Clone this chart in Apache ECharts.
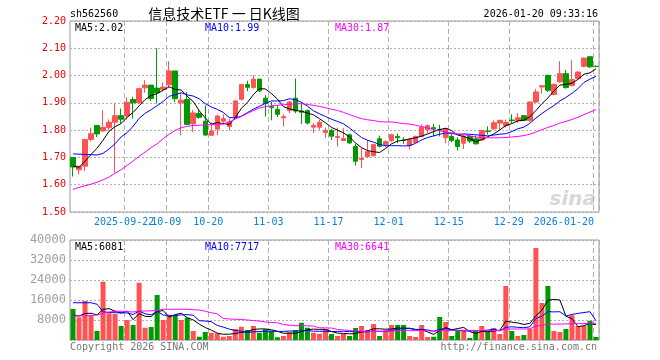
<!DOCTYPE html>
<html><head><meta charset="utf-8">
<script src="https://cdn.jsdelivr.net/npm/echarts@6/dist/echarts.min.js"></script>
<style>html,body{margin:0;padding:0;background:#fff}#c{width:660px;height:360px}</style>
</head><body><div id="c"></div>
<script>
const dates = ['2025-09-09','2025-09-10','2025-09-11','2025-09-12','2025-09-15','2025-09-16','2025-09-17','2025-09-18','2025-09-19','2025-09-22','2025-09-23','2025-09-24','2025-09-25','2025-09-26','2025-09-29','2025-09-30',
'2025-10-09','2025-10-10','2025-10-13','2025-10-14','2025-10-15','2025-10-16','2025-10-17','2025-10-20','2025-10-21','2025-10-22','2025-10-23','2025-10-24','2025-10-27','2025-10-28','2025-10-29','2025-10-30','2025-10-31',
'2025-11-03','2025-11-04','2025-11-05','2025-11-06','2025-11-07','2025-11-10','2025-11-11','2025-11-12','2025-11-13','2025-11-14','2025-11-17','2025-11-18','2025-11-19','2025-11-20','2025-11-21','2025-11-24','2025-11-25','2025-11-26','2025-11-27','2025-11-28',
'2025-12-01','2025-12-02','2025-12-03','2025-12-04','2025-12-05','2025-12-08','2025-12-09','2025-12-10','2025-12-11','2025-12-12','2025-12-15','2025-12-16','2025-12-17','2025-12-18','2025-12-19','2025-12-22','2025-12-23','2025-12-24','2025-12-25','2025-12-26','2025-12-29','2025-12-30','2025-12-31',
'2026-01-05','2026-01-06','2026-01-07','2026-01-08','2026-01-09','2026-01-12','2026-01-13','2026-01-14','2026-01-15','2026-01-16','2026-01-19','2026-01-20'];
const labelDates = ['2025-09-22','2025-10-09','2025-10-20','2025-11-03','2025-11-17','2025-12-01','2025-12-15','2025-12-29','2026-01-20'];

const opens = [1.700,1.655,1.668,1.766,1.817,1.797,1.809,1.829,1.853,1.852,1.912,1.900,1.955,1.965,1.954,1.949,1.966,2.017,1.900,1.912,1.823,1.861,1.833,1.781,1.804,1.833,1.813,1.846,1.913,1.967,
1.956,1.987,1.917,1.886,1.876,1.845,1.872,1.917,1.870,1.872,1.811,1.811,1.791,1.799,1.773,1.762,1.783,1.740,1.692,1.703,1.706,1.768,1.746,1.762,1.777,1.764,1.743,1.755,1.777,1.801,
1.809,1.803,1.772,1.777,1.764,1.752,1.777,1.768,1.764,1.797,1.805,1.826,1.817,1.837,1.836,1.853,1.836,1.903,1.958,2.001,1.931,1.977,2.007,1.964,1.989,2.034,2.069,2.034];
const closes = [1.665,1.668,1.766,1.787,1.786,1.810,1.829,1.853,1.840,1.902,1.900,1.952,1.965,1.916,1.937,1.958,2.017,1.915,1.910,1.821,1.863,1.847,1.782,1.797,1.852,1.842,1.830,1.907,1.967,1.957,
1.987,1.944,1.898,1.882,1.858,1.850,1.903,1.870,1.866,1.826,1.817,1.829,1.799,1.778,1.777,1.769,1.753,1.686,1.696,1.721,1.747,1.741,1.758,1.783,1.772,1.762,1.766,1.777,1.811,1.816,
1.805,1.800,1.805,1.762,1.740,1.777,1.760,1.750,1.799,1.795,1.827,1.836,1.828,1.835,1.845,1.836,1.903,1.940,1.963,1.946,1.968,2.007,1.956,1.985,2.013,2.064,2.032,2.033];
const lows = [1.630,1.637,1.650,1.759,1.775,1.793,1.799,1.644,1.824,1.839,1.842,1.898,1.937,1.907,1.898,1.943,1.956,1.903,1.781,1.821,1.793,1.842,1.780,1.780,1.781,1.820,1.799,1.842,1.909,1.943,
1.952,1.940,1.850,1.836,1.848,1.813,1.862,1.862,1.823,1.821,1.790,1.801,1.772,1.764,1.740,1.760,1.750,1.670,1.661,1.698,1.703,1.737,1.737,1.756,1.752,1.750,1.729,1.752,1.776,1.789,
1.777,1.777,1.752,1.756,1.725,1.731,1.753,1.747,1.762,1.784,1.801,1.799,1.809,1.826,1.826,1.834,1.830,1.900,1.934,1.940,1.927,1.973,1.952,1.960,1.985,2.030,2.028,2.030];
const highs = [1.700,1.668,1.766,1.809,1.817,1.873,1.839,1.898,1.879,1.920,1.922,1.954,1.983,1.966,2.100,1.975,2.053,2.017,1.939,1.939,1.873,1.873,1.890,1.828,1.856,1.858,1.842,1.910,1.969,1.981,
2.001,1.988,1.928,1.903,1.890,1.858,1.907,1.989,1.903,1.875,1.826,1.838,1.809,1.804,1.809,1.807,1.787,1.750,1.735,1.764,1.750,1.780,1.762,1.787,1.787,1.774,1.771,1.780,1.821,1.821,
1.823,1.820,1.808,1.787,1.774,1.782,1.782,1.780,1.801,1.814,1.836,1.838,1.838,1.858,1.863,1.855,1.905,1.951,1.963,2.003,1.970,2.053,2.020,2.056,2.015,2.066,2.071,2.036];

const ma5 = [1.668,1.664,1.686,1.711,1.734,1.763,1.796,1.813,1.824,1.847,1.865,1.889,1.912,1.927,1.934,1.946,1.959,1.949,1.947,1.924,1.905,1.871,1.845,1.822,1.828,1.824,1.821,1.846,1.880,1.901,
1.930,1.952,1.951,1.934,1.914,1.886,1.878,1.873,1.869,1.863,1.856,1.842,1.827,1.810,1.800,1.790,1.775,1.753,1.736,1.725,1.721,1.718,1.733,1.750,1.760,1.763,1.768,1.772,1.778,1.786,
1.795,1.802,1.807,1.798,1.782,1.777,1.769,1.758,1.765,1.776,1.786,1.801,1.817,1.824,1.834,1.836,1.849,1.872,1.897,1.918,1.944,1.965,1.968,1.972,1.986,2.005,2.010,2.025];
const ma10 = [1.713,1.712,1.711,1.710,1.709,1.715,1.731,1.750,1.775,1.791,1.814,1.843,1.862,1.875,1.890,1.905,1.924,1.930,1.937,1.929,1.925,1.915,1.897,1.885,1.876,1.865,1.846,1.845,1.851,1.864,
1.877,1.887,1.898,1.907,1.907,1.908,1.915,1.912,1.902,1.888,1.871,1.860,1.850,1.840,1.832,1.823,1.808,1.790,1.773,1.763,1.756,1.747,1.743,1.743,1.743,1.742,1.743,1.752,1.764,1.773,
1.779,1.785,1.790,1.788,1.784,1.786,1.785,1.783,1.781,1.779,1.782,1.785,1.787,1.795,1.805,1.811,1.825,1.844,1.861,1.876,1.890,1.907,1.920,1.935,1.952,1.975,1.987,1.997];
const ma30 = [1.583,1.590,1.596,1.602,1.609,1.618,1.628,1.642,1.655,1.671,1.687,1.704,1.720,1.736,1.750,1.769,1.785,1.799,1.809,1.814,1.817,1.818,1.819,1.820,1.820,1.823,1.830,1.841,1.850,1.861,
1.872,1.881,1.886,1.889,1.891,1.893,1.895,1.896,1.897,1.894,1.891,1.887,1.882,1.877,1.872,1.865,1.857,1.849,1.842,1.838,1.835,1.831,1.830,1.830,1.827,1.824,1.822,1.818,1.813,1.808,
1.802,1.797,1.794,1.790,1.786,1.784,1.779,1.775,1.773,1.772,1.772,1.772,1.773,1.775,1.777,1.780,1.785,1.793,1.802,1.810,1.817,1.826,1.832,1.839,1.847,1.857,1.866,1.875];

const volumes = [12400,9070,15600,9600,3600,23300,10700,10400,5600,8000,6000,22900,4900,5200,18000,8000,9600,10000,8000,8900,3600,1300,3200,2900,2700,1300,1600,4400,5300,4000,
5600,2900,4300,3600,1100,1600,3100,4000,6900,4900,2900,2500,4300,2400,1600,2400,1600,4800,5600,4000,6400,1600,4000,6000,6000,6000,1600,1200,6000,1200,
1300,9200,7200,1600,3600,3600,800,3600,5600,3200,4800,2400,21600,3600,1600,2000,4400,36800,14800,21600,3600,3200,4400,9900,5600,5600,7700,1200];
const vma5 = [10000,9600,10600,10700,10054,12234,12560,11520,10720,11600,8140,10580,9480,9400,11400,11800,9140,10160,10720,8900,8020,6360,5000,3980,2740,2280,2340,2580,3060,3320,
4180,4440,4420,4080,3500,2700,2740,2680,3340,4100,4360,4240,4300,3400,2740,2640,2460,2560,3200,3680,4480,4480,4320,4400,4800,4720,4720,4160,4160,3200,
2260,3780,4980,4100,4580,5040,3360,2640,3440,3360,3600,3920,7520,7120,6800,6240,6640,9680,11920,15920,16240,16000,9520,8540,5340,5740,6640,6081];
const vma10 = [14900,14900,14900,14900,14300,11300,11000,10900,10900,10827,10187,11570,10500,10060,11500,9970,9860,9820,10060,10150,9910,7750,7580,7350,5820,5150,4350,3790,3520,3030,
3230,3390,3500,3570,3410,3440,3590,3550,3710,3800,3530,3490,3490,3370,3420,3500,3350,3430,3300,3210,3560,3470,3440,3800,4240,4600,4600,4240,4280,4000,
3490,4250,4570,4130,3890,3650,3570,3810,3770,3970,4320,3640,5080,5280,5080,4920,5280,8600,9520,11360,11240,11320,9600,10230,10630,10990,11320,7717];
const vma30 = [9600,9600,9700,9800,10000,10700,11200,11500,11500,11400,11200,11600,11600,11700,11800,12300,12300,12300,12300,12300,12100,12000,11500,10900,10500,8600,8400,8300,8200,8002,
7776,7570,7193,6993,6910,6187,5933,5720,5763,5660,5557,4877,4857,4763,4217,4030,3763,3590,3510,3347,3440,3450,3477,3580,3690,3847,3847,3740,3763,3670,
3527,3737,3833,3767,3850,3917,3840,3827,3783,3727,3790,3787,4363,4403,4403,4390,4483,5550,5857,6443,6350,6403,6417,6547,6533,6520,6723,6641];

const priceMaLabels = ['MA5:2.02','MA10:1.99','MA30:1.87'];
const volMaLabels = ['MA5:6081','MA10:7717','MA30:6641'];
const maColors = ['#000000','#0000ff','#ff00ff'];

const UP = '#ff5353', DOWN = '#009a00';
const MONO = 'DejaVu Sans Mono';
const LBLBLUE = '#0a80d8';
const isLabel = (i, v) => labelDates.indexOf(v) >= 0;

const chart = echarts.init(document.getElementById('c'), null, {renderer: 'canvas'});
const candles = dates.map((d, i) => [opens[i], closes[i], lows[i], highs[i]]);
const volBars = volumes.map((v, i) => ({value: v, itemStyle: {color: closes[i] >= opens[i] ? UP : DOWN}}));

const splitX = {show: true, interval: isLabel, lineStyle: {color: '#b0b0b0', type: [5, 3], width: 1}};
const lineS = (name, data, color, xi, yi) => ({name, type: 'line', data, xAxisIndex: xi, yAxisIndex: yi, showSymbol: false, symbol: 'none', lineStyle: {color, width: 1}, itemStyle: {color}, silent: true, z: 5});

function txt(x, y, text, opts) {
  return {type: 'text', x, y, style: Object.assign({text, font: '10px ' + MONO, fill: '#000', textVerticalAlign: 'middle'}, opts || {})};
}
const lastLabel = labelDates[labelDates.length - 1];
const richBase = {color: LBLBLUE, fontFamily: MONO, fontSize: 10};

chart.setOption({
  animation: false,
  backgroundColor: '#fff',
  grid: [
    {left: 70, top: 21, width: 529, height: 191, show: true, borderColor: '#999', borderWidth: 1, backgroundColor: 'transparent'},
    {left: 70, top: 240, width: 529, height: 100, show: true, borderColor: '#999', borderWidth: 1, backgroundColor: 'transparent'}
  ],
  xAxis: [
    {type: 'category', gridIndex: 0, data: dates, boundaryGap: true,
     axisLine: {show: false}, axisTick: {show: false, interval: isLabel},
     axisLabel: {interval: 0, color: LBLBLUE, fontFamily: MONO, fontSize: 10, margin: 5,
       hideOverlap: false, alignMaxLabel: 'right',
       formatter: v => !isLabel(0, v) ? '' : (v === lastLabel ? '{b|' + v + '}' : '{a|' + (v === labelDates[0] ? v : v.slice(5)) + '}'),
       rich: {a: Object.assign({padding: [0, 6, 0, 0]}, richBase), b: Object.assign({padding: [0, 2, 0, 0]}, richBase)}},
     splitLine: splitX},
    {type: 'category', gridIndex: 1, data: dates, boundaryGap: true,
     axisLine: {show: false}, axisTick: {show: false, interval: isLabel}, axisLabel: {show: false, interval: isLabel},
     splitLine: splitX}
  ],
  yAxis: [
    {type: 'value', gridIndex: 0, min: 1.5, max: 2.2, interval: 0.1,
     axisLine: {show: false}, axisTick: {show: false},
     axisLabel: {color: '#ee0000', fontFamily: MONO, fontSize: 10, margin: 4, showMinLabel: true, showMaxLabel: true, formatter: v => v.toFixed(2)},
     splitLine: {show: true, lineStyle: {color: '#b0b0b0', type: [2, 2], width: 1}}},
    {type: 'value', gridIndex: 1, min: 0, max: 40000, interval: 8000,
     axisLine: {show: false}, axisTick: {show: false},
     axisLabel: {color: '#a0a0a0', fontFamily: MONO, fontSize: 12, margin: 4, showMaxLabel: true, formatter: v => v === 0 ? '' : String(v)},
     splitLine: {show: true, lineStyle: {color: '#b0b0b0', type: [2, 2], width: 1}}}
  ],
  series: [
    {type: 'candlestick', xAxisIndex: 0, yAxisIndex: 0, data: candles, barWidth: 5, silent: true,
     itemStyle: {color: UP, color0: DOWN, borderColor: UP, borderColor0: DOWN, borderWidth: 1}},
    lineS('MA5', ma5, maColors[0], 0, 0),
    lineS('MA10', ma10, maColors[1], 0, 0),
    lineS('MA30', ma30, maColors[2], 0, 0),
    {type: 'bar', xAxisIndex: 1, yAxisIndex: 1, data: volBars, barWidth: 5, silent: true},
    lineS('VMA5', vma5, maColors[0], 1, 1),
    lineS('VMA10', vma10, maColors[1], 1, 1),
    lineS('VMA30', vma30, maColors[2], 1, 1)
  ],
  graphic: [
    txt(70, 14, 'sh562560', {font: '10px ' + MONO}),
    txt(224, 14, '信息技术ETF 一 日K线图', {font: '14px "Noto Sans CJK SC"', textAlign: 'center'}),
    txt(598, 14, '2026-01-20 09:33:16', {font: '10px ' + MONO, textAlign: 'right'}),
    txt(75, 28, priceMaLabels[0], {fill: maColors[0]}),
    txt(205, 28, priceMaLabels[1], {fill: maColors[1]}),
    txt(335, 28, priceMaLabels[2], {fill: maColors[2]}),
    txt(75, 247, volMaLabels[0], {fill: maColors[0]}),
    txt(205, 247, volMaLabels[1], {fill: maColors[1]}),
    txt(335, 247, volMaLabels[2], {fill: maColors[2]}),
    txt(70, 347, 'Copyright 2026 SINA.COM', {fill: '#777'}),
    txt(597, 347, 'http://finance.sina.com.cn', {fill: '#777', textAlign: 'right'}),
    txt(596, 200, 'sina', {font: 'italic bold 20px "DejaVu Sans"', fill: '#d8d8d8', textAlign: 'right'})
  ]
});
</script></body></html>
